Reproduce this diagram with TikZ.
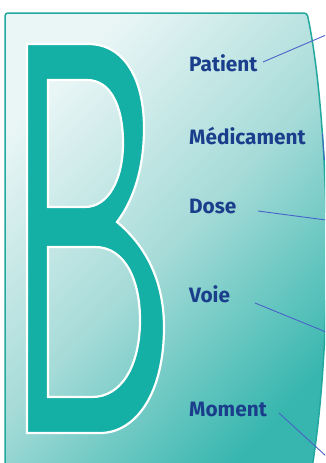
\documentclass[tikz,border=0pt]{standalone}
\usepackage{fontspec}
\newfontfamily\labfont{Fira Sans}
\definecolor{bcol}{HTML}{14B0A6}
\definecolor{edgecol}{HTML}{22A89E}
\definecolor{txtcol}{HTML}{1A3E8C}
\definecolor{linkcol}{HTML}{4A62C8}
\definecolor{gtop}{HTML}{EAF6F6}
\definecolor{gmid}{HTML}{A6DBD8}
\definecolor{gbot}{HTML}{36B6AE}
\tikzset{
  panel/.style={draw=edgecol, line width=1.5pt, rounded corners=3pt,
    top color=gtop, bottom color=gbot, middle color=gmid, shading angle=46},
  letterb/.style={fill=bcol, draw=white, line width=2.2pt, even odd rule},
  lab/.style={anchor=west, inner sep=0pt, text=txtcol, font=\labfont\bfseries\fontsize{20.8}{22}\selectfont},
  link/.style={draw=linkcol, line width=0.9pt}
}
\begin{document}
\begin{tikzpicture}[x=1pt,y=-1pt]
\useasboundingbox (0,0) rectangle (325,463);
\clip (0,0) rectangle (325,463);
\fill[white] (0,0) rectangle (325,463);
% panel
\path[panel] (5,480) -- (5,13) -- (307,13)
  .. controls (328,110) and (336,330) .. (310,480) -- cycle;
% letter B
\path[letterb]
  (27,44) -- (88,44) .. controls (125,44) and (144,80) .. (144,128)
  .. controls (144,175) and (130,205) .. (117,222)
  .. controls (145,245) and (164,280) .. (164,327)
  .. controls (164,395) and (135,433) .. (100,433)
  -- (27,433) -- cycle
  (48,80) -- (87,80) .. controls (110,80) and (123,105) .. (123,143)
  .. controls (123,180) and (108,207) .. (85,207) -- (48,207) -- cycle
  (48,247) -- (95,247) .. controls (125,247) and (140,280) .. (140,320)
  .. controls (140,365) and (122,397) .. (92,397) -- (48,397) -- cycle;
% labels
\node[lab] (patient) at (189,63) {Patient};
\node[lab] (medic) at (189,136) {Médicament};
\node[lab] (dose) at (189,206) {Dose};
\node[lab] (voie) at (189,294) {Voie};
\node[lab] (moment) at (189,409) {Moment};
% connectors
\coordinate (p1) at (263,62);  \coordinate (p2) at (326,35);
\coordinate (m1) at (322.5,134); \coordinate (m2) at (324.5,160);
\coordinate (d1) at (258,211); \coordinate (d2) at (326,220);
\coordinate (v1) at (255,303); \coordinate (v2) at (326,332);
\coordinate (t1) at (279,413); \coordinate (t2) at (326,456);
\draw[link] (p1) -- (p2);
\draw[link] (m1) -- (m2);
\draw[link] (d1) -- (d2);
\draw[link] (v1) -- (v2);
\draw[link] (t1) -- (t2);
\end{tikzpicture}
\end{document}
